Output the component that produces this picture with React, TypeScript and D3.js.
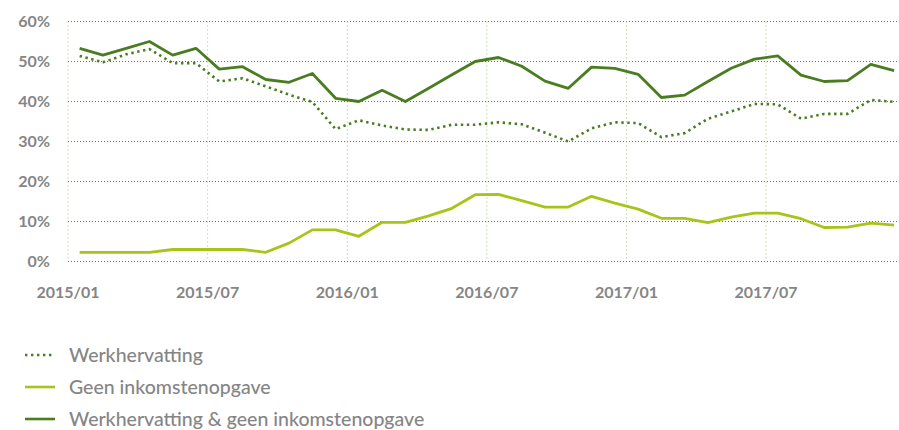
import * as d3 from 'd3';
import React, {useEffect, useRef} from "react";

const WIDTH = 899;
const HEIGHT = 430;

const months = d3.range(36); // 2015/01 .. 2017/12
const tickMonths = [0, 6, 12, 18, 24, 30];
const tickLabels = ["2015/01", "2015/07", "2016/01", "2016/07", "2017/01", "2017/07"];
const yTicks = [0, 10, 20, 30, 40, 50, 60];

const werkhervatting = [
    51.4, 49.8, 51.8, 53.1, 49.6, 49.6, 45.0, 45.8, 43.8, 41.7, 39.9, 33.1,
    35.3, 34.0, 33.0, 32.9, 34.2, 34.2, 34.8, 34.3, 32.2, 30.0, 33.3, 34.8,
    34.6, 31.1, 32.1, 35.7, 37.5, 39.4, 39.3, 35.7, 36.9, 36.9, 40.4, 39.9
];
const geenInkomsten = [
    2.3, 2.3, 2.3, 2.3, 3.0, 3.0, 3.0, 3.0, 2.3, 4.6, 7.9, 7.9,
    6.3, 9.8, 9.8, 11.4, 13.3, 16.7, 16.8, 15.2, 13.6, 13.6, 16.3, 14.6,
    13.1, 10.8, 10.8, 9.7, 11.1, 12.1, 12.1, 10.7, 8.5, 8.6, 9.6, 9.1
];
const beide = [
    53.3, 51.6, 53.3, 55.0, 51.6, 53.3, 48.1, 48.7, 45.5, 44.8, 47.0, 40.8,
    40.0, 42.8, 40.0, 43.3, 46.7, 50.0, 51.0, 48.8, 45.1, 43.3, 48.6, 48.3,
    46.8, 41.0, 41.6, 45.0, 48.3, 50.6, 51.4, 46.6, 45.0, 45.2, 49.3, 47.7
];

const DARK = "#4a7c21";
const LIGHT = "#a8c41a";
const TEXT = "#858585";

const series = [
    {name: "Werkhervatting", values: werkhervatting, color: DARK, dash: "2.4 3.6"},
    {name: "Geen inkomstenopgave", values: geenInkomsten, color: LIGHT, dash: null},
    {name: "Werkhervatting & geen inkomstenopgave", values: beide, color: DARK, dash: null},
];

export default function App() {
    const ref = useRef(null);

    useEffect(() => {
        const svg = d3.select(ref.current);
        svg.selectAll('*').remove();

        const x = d3.scaleLinear().domain([0, 36]).range([68, 68 + 36 * 23.27]);
        const y = d3.scaleLinear().domain([0, 60]).range([261.5, 21.5]);

        // horizontal grid
        svg.append('g')
            .selectAll('line')
            .data(yTicks)
            .enter()
            .append('line')
            .attr('x1', x(0))
            .attr('x2', WIDTH)
            .attr('y1', d => y(d))
            .attr('y2', d => y(d))
            .style('stroke', '#6e6e6e')
            .style('stroke-width', 1)
            .style('stroke-dasharray', '1 2');

        // vertical grid
        svg.append('g')
            .selectAll('line')
            .data(tickMonths)
            .enter()
            .append('line')
            .attr('x1', d => x(d))
            .attr('x2', d => x(d))
            .attr('y1', y(60))
            .attr('y2', y(0))
            .style('stroke', '#9cc47c')
            .style('stroke-width', 1)
            .style('stroke-dasharray', '1 3');

        // y labels
        svg.append('g')
            .selectAll('text')
            .data(yTicks)
            .enter()
            .append('text')
            .attr('x', 50)
            .attr('y', d => y(d))
            .attr('dy', '0.36em')
            .attr('text-anchor', 'end')
            .text(d => d + '%')
            .style('font-family', 'Lato')
            .style('font-weight', 700)
            .style('font-size', '16px')
            .style('fill', TEXT);

        // x labels
        svg.append('g')
            .selectAll('text')
            .data(tickMonths)
            .enter()
            .append('text')
            .attr('x', d => x(d))
            .attr('y', 298)
            .attr('text-anchor', 'middle')
            .text((d, i) => tickLabels[i])
            .style('font-family', 'Lato')
            .style('font-weight', 700)
            .style('font-size', '16px')
            .style('fill', TEXT);

        const line = d3.line<number>()
            .x((d, i) => x(months[i] + 0.5))
            .y(d => y(d));

        // draw light first, then dotted, then solid dark
        [series[1], series[0], series[2]].forEach(s => {
            svg.append('path')
                .datum(s.values)
                .attr('d', line)
                .style('fill', 'none')
                .style('stroke', s.color)
                .style('stroke-width', s.dash ? 2.6 : 2.8)
                .style('stroke-dasharray', s.dash)
                .style('stroke-linejoin', 'round');
        });

        // legend
        const legend = svg.append('g');
        series.forEach((s, i) => {
            const cy = 355 + i * 32;
            legend.append('line')
                .attr('x1', 25)
                .attr('x2', 55)
                .attr('y1', cy)
                .attr('y2', cy)
                .style('stroke', s.color)
                .style('stroke-width', 2.6)
                .style('stroke-dasharray', s.dash);
            legend.append('text')
                .attr('x', 69)
                .attr('y', cy)
                .attr('dy', '0.35em')
                .text(s.name)
                .style('font-family', 'Lato')
                .style('font-weight', 500)
                .style('font-size', '19.5px')
                .style('fill', TEXT);
        });
    }, []);

    return (
        <svg ref={ref} width={WIDTH} height={HEIGHT}
             style={{position: 'absolute', left: 0, top: 0, background: '#fff'}}/>
    );
}
